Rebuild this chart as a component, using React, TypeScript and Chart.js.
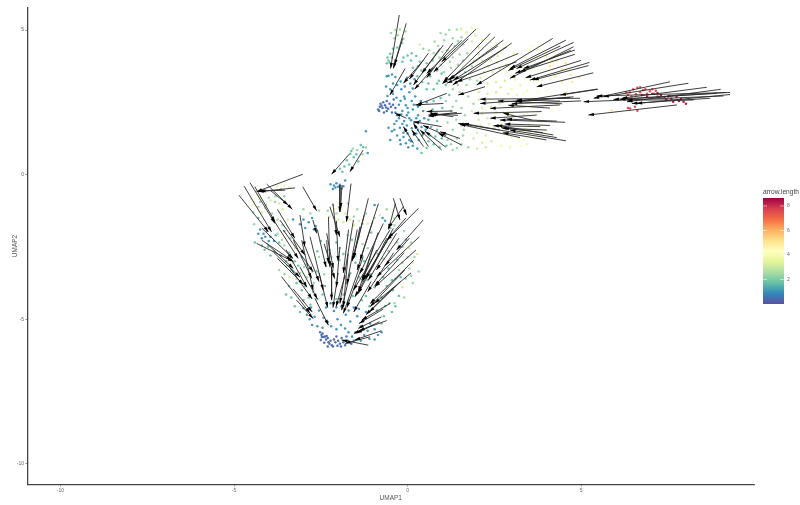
import React, { useEffect, useRef } from "react";
import { Chart, registerables } from "chart.js";

Chart.register(...registerables);

const xTicks = [-10, -5, 0, 5];
const yTicks = [-10, -5, 0, 5];
const legendTicks = [2, 4, 6, 8];
const legendMax = 8.65;
const spectral = ["#5e4fa2", "#3288bd", "#66c2a5", "#abdda4", "#e6f598", "#ffffbf", "#fee08b", "#fdae61", "#f46d43", "#d53e4f", "#9e0142"];

// cells grouped by arrow length: [UMAP1, UMAP2]
const cellsLen04 = [
  [-0.85,2.25],[-0.8,2.35],[-0.78,2.45],[-0.72,2.3],[-0.7,2.5],[-0.65,2.4],[-0.6,2.55],[-0.6,2.2],[-0.52,2.45],[-0.48,2.35],[-0.45,2.15],[-0.4,2.6],[-0.35,2.3],[-0.3,2.05],[-0.68,2.15],[-0.75,2.38],[-0.62,2.32],[-0.56,2.28],[-0.82,2.2],[-0.42,2.42],
  [-2.52,-5.45],[-2.48,-5.55],[-2.45,-5.5],[-2.42,-5.62],[-2.38,-5.6],[-2.35,-5.7],[-2.3,-5.65],[-2.28,-5.8],[-2.22,-5.75],[-2.18,-5.9],[-2.12,-5.7],[-2.08,-5.8],[-2.05,-5.6],[-2.0,-5.75],[-1.95,-5.85],[-1.9,-5.65],[-1.85,-5.8],[-1.8,-5.9],[-2.5,-5.72],[-2.4,-5.82],[-2.3,-5.95],[-1.72,-5.75],[-1.62,-5.85],[-2.47,-5.62],[-2.33,-5.58],[-2.25,-5.85],[-2.15,-5.95],[-2.02,-5.92],[-1.92,-5.95],[-1.76,-5.6],
];
const cellsLen10 = [
  [-0.55,3.42],[-0.45,3.46],[-0.35,3.38],[-0.62,3.05],[-0.5,2.95],[-0.42,2.8],[-0.3,3.1],[-0.18,2.95],[-0.1,2.7],[-0.2,2.55],[-0.05,2.4],[0.05,2.85],[0.12,2.55],[0.22,2.7],[0.3,2.35],[0.38,2.55],[-0.15,2.2],[0.02,2.15],[0.15,2.25],[0.3,2.05],[0.45,2.2],[-0.25,1.95],[-0.1,1.85],[0.05,1.95],[0.2,1.8],[0.35,1.85],[-0.38,1.75],[-0.22,1.62],[-0.05,1.55],[0.12,1.6],[0.3,1.55],[-0.45,1.5],[-0.3,1.35],[-0.12,1.3],[0.05,1.2],[0.18,1.38],[0.32,1.2],[-0.2,1.05],[0.02,0.95],[0.15,1.0],[0.28,0.9],[-0.5,1.2],[-1.2,1.5],[-1.15,0.75],[0.55,2.5],[0.6,1.9],[0.52,1.55],[0.08,3.15],[0.2,3.3],[-0.02,3.35],
  [-0.58,2.72],[-0.32,2.66],[-0.25,2.42],[-0.08,2.62],[0.0,2.3],[0.18,2.42],[-0.35,2.15],[-0.18,2.08],[-0.02,2.05],[0.1,1.88],[0.25,1.95],[-0.32,1.85],[-0.15,1.75],[-0.02,1.7],[0.22,1.68],[-0.55,1.62],[-0.38,1.55],[-0.12,1.45],[0.0,1.42],[0.25,1.42],[-0.22,1.2],[-0.05,1.08],[0.1,1.15],[0.42,1.35],[0.4,1.65],[0.48,1.95],[-0.6,3.4],[-0.42,3.15],[-0.2,3.22],[-0.08,3.05],[0.15,2.98],
  [-2.22,-0.33],[-2.12,-0.38],[-2.05,-0.3],[-2.0,-0.42],[-1.95,-0.35],[-2.15,-0.5],[-1.8,-0.2],[-2.08,-0.45],[-1.9,-0.48],[-1.85,-0.4],
  [-4.25,-1.9],[-4.15,-2.05],[-4.05,-1.95],[-4.2,-2.2],[-3.95,-2.15],[-3.3,-1.55],[-3.1,-1.72],[-2.95,-1.85],[-2.75,-1.5],[-2.65,-1.78],[-0.95,-1.05],[-0.72,-1.5],[-0.65,-1.6],[-4.3,-2.05],[-4.1,-2.15],[-4.0,-2.3],[-3.85,-2.3],[-3.0,-1.55],[-2.85,-1.65],[-2.7,-1.9],
  [-2.55,-4.7],[-2.42,-4.95],[-2.3,-5.1],[-2.22,-4.45],[-2.12,-4.72],[-2.02,-5.0],[-1.92,-5.2],[-1.9,-4.55],[-1.78,-4.85],[-1.65,-5.08],[-1.55,-4.6],[-1.45,-4.9],[-1.35,-5.25],[-1.2,-4.75],[-1.08,-5.15],[-0.95,-5.35],[-1.5,-5.45],[-1.25,-5.55],[-1.1,-5.68],[-1.35,-5.75],[-2.75,-5.2],[-2.9,-4.85],[-3.0,-4.62],[-2.6,-5.25],[-1.6,-5.6],
  [-2.45,-5.3],[-2.2,-5.25],[-2.05,-5.35],[-1.8,-5.32],[-1.7,-5.45],[-2.35,-4.6],[-2.05,-4.6],[-1.7,-4.7],[-1.4,-4.65],[-1.25,-5.0],[-1.15,-5.4],[-0.85,-5.55],[-0.95,-5.7],[-0.75,-5.45],[-1.55,-5.75],[-2.82,-5.0],[-2.68,-4.92],[-2.78,-4.6],
];
const cellsLen17 = [
  [-0.58,4.05],[-0.5,4.18],[-0.42,4.35],[-0.3,4.4],[-0.6,3.85],[-0.52,3.88],[-0.12,4.05],[0.0,4.12],[0.12,4.2],[0.25,4.1],[0.35,3.9],[0.55,3.85],[0.72,3.95],[0.85,3.6],[0.65,3.4],[0.4,3.6],[0.28,3.4],[0.9,3.25],[1.1,3.1],[0.75,2.95],[0.55,2.95],[0.65,1.35],[0.85,1.55],[0.98,1.25],[1.12,1.0],[0.75,1.05],[0.55,0.92],[0.4,0.75],[1.0,2.3],[1.2,2.75],[0.95,2.65],
  [0.15,3.7],[0.3,3.75],[0.5,3.65],[0.7,3.65],[0.98,3.5],[0.85,3.15],[0.6,3.15],[0.42,3.2],[0.75,2.55],[0.72,2.25],[0.85,1.85],[0.68,1.65],[0.8,1.32],[0.92,0.95],[0.6,1.15],[1.1,1.4],[-0.55,3.95],[-0.45,4.05],[-0.15,3.9],[0.1,3.95],
  [-1.35,1.02],[-1.28,0.95],[-1.65,0.72],[-1.55,0.6],[-1.75,0.5],[-1.42,0.45],[-1.82,0.28],[-1.95,0.2],[-1.62,0.82],[-1.48,0.7],[-1.68,0.35],[-1.88,0.1],
  [-4.3,-1.5],[-4.4,-2.35],[-4.2,-2.45],[-4.02,-2.5],[-3.85,-2.65],[-3.7,-2.35],[-3.55,-1.95],[-3.42,-2.7],[-3.25,-3.0],[-3.05,-2.85],[-2.9,-3.1],[-2.62,-3.35],[-3.2,-3.75],[-3.05,-4.0],[-2.85,-4.25],[-3.35,-4.25],[-3.25,-4.55],[-3.1,-4.75],[-2.72,-4.05],[-2.38,-3.85],[-2.18,-4.1],[-1.85,-4.15],[-1.58,-4.2],[-1.32,-4.35],[-1.1,-4.55],[-0.88,-4.7],[-0.68,-4.9],[-0.75,-5.15],[-0.52,-4.45],[-0.6,-3.85],[-0.42,-4.0],[-0.25,-4.2],[-0.95,-3.9],[-1.15,-3.65],[-1.4,-3.55],[-1.65,-3.4],[-1.25,-3.0],[-0.85,-3.2],[-0.55,-3.25],[-0.3,-2.95],[-0.15,-2.5],[-0.05,-2.25],[-2.25,-2.6],[-2.5,-2.3],[-1.6,-2.25],[-1.05,-2.0],[-0.5,-1.85],[-0.85,-2.75],
  [-4.12,-2.6],[-3.95,-2.8],[-3.8,-2.1],[-3.65,-2.8],[-3.5,-3.0],[-3.35,-3.3],[-3.15,-3.15],[-3.42,-3.85],[-3.5,-4.15],[-3.0,-4.35],[-2.95,-3.85],[-2.8,-4.5],[-2.6,-4.3],[-2.45,-4.15],[-2.05,-4.3],[-1.7,-4.35],[-1.45,-4.1],[-1.2,-4.2],[-0.95,-4.4],[-0.75,-4.25],[-0.65,-4.55],[-0.45,-4.75],[-0.35,-4.55],[-1.05,-3.45],[-0.7,-3.55],[-0.45,-3.65],[-0.2,-3.55],[-1.5,-3.05],[-1.85,-2.75],[-2.05,-2.35],[-2.35,-3.15],[-2.6,-2.65],
];
const cellsLen24 = [
  [-0.48,4.9],[-0.35,5.0],[-0.22,5.02],[-0.06,4.95],[-0.15,4.55],[0.95,4.9],[1.2,5.0],[1.42,5.02],[1.05,4.65],[1.3,4.72],[1.55,4.75],[0.88,4.45],[0.62,4.3],[0.45,4.35],[1.15,4.3],[1.35,4.45],[1.6,4.5],[0.92,4.05],[1.1,4.05],[1.3,4.05],[1.5,4.15],[1.72,4.2],[1.45,3.8],[1.25,3.7],[1.05,3.55],[1.65,3.55],[1.85,3.75],[1.55,3.35],[1.35,3.4],[1.8,3.3],[2.0,3.25],[1.25,2.2],[1.4,2.55],[1.55,2.3],[1.75,2.7],[1.9,2.45],[1.55,1.05],[1.3,0.85],[1.6,1.35],[1.75,0.95],[1.3,1.55],[1.55,1.7],
  [-0.38,4.72],[-0.28,4.82],[-0.12,4.7],[0.78,4.6],[1.1,4.85],[1.45,4.62],[0.75,4.2],[1.0,4.25],[1.22,3.9],[1.6,3.95],[0.95,3.8],[1.2,3.3],[1.45,3.1],[1.7,3.1],[1.5,2.85],[1.3,2.95],[1.1,2.55],[1.3,2.35],[1.15,1.8],[1.4,1.9],[1.65,2.05],[1.15,1.2],[1.42,1.25],[1.62,1.55],[1.25,1.05],[1.42,0.92],
  [-1.2,0.95],[-1.45,0.85],[-1.58,0.9],[-1.3,0.7],
  [-4.25,-0.95],[-4.0,-0.8],[-3.8,-0.75],[-3.65,-0.5],[-3.55,-0.75],[-4.45,-1.3],[-4.42,-1.72],[-3.9,-1.35],[-3.75,-2.05],[-3.55,-2.45],[-3.48,-3.15],[-3.55,-3.45],[-3.3,-3.35],[-3.1,-3.4],[-2.9,-3.55],[-2.7,-3.75],[-2.55,-2.85],[-2.15,-3.3],[-1.95,-2.95],[-1.8,-3.55],[-1.5,-2.8],[-1.3,-2.4],[-1.95,-1.2],[-2.15,-1.05],[-1.72,-1.0],[-1.45,-1.2],[-1.2,-1.35],[-0.95,-1.5],[-0.6,-1.2],[-0.38,-1.75],[-0.1,-1.95],[0.1,-2.35],[0.2,-2.85],[0.32,-3.35],[0.15,-3.75],[0.05,-3.25],[-0.05,-3.6],[-0.15,-3.05],[-2.55,-1.25],[-2.8,-1.35],[-3.0,-1.2],[-0.38,-4.45],[-0.1,-4.25],[-0.35,-3.6],[-0.62,-2.35],
  [-4.3,-1.12],[-4.08,-1.05],[-3.82,-0.95],[-3.75,-1.55],[-3.6,-1.75],[-3.62,-2.25],[-3.38,-2.2],[-3.35,-2.85],[-3.7,-3.3],[-3.2,-3.6],[-2.98,-3.2],[-2.75,-3.35],[-2.4,-3.45],[-2.2,-2.85],[-1.95,-2.55],[-1.72,-2.1],[-1.4,-2.15],[-1.15,-2.55],[-1.05,-2.95],[-0.72,-2.9],[-0.55,-2.65],[-0.3,-2.35],[0.0,-2.85],[0.1,-3.5],[-0.25,-3.3],[-1.55,-1.45],[-1.3,-1.7],[-2.05,-1.35],[-2.3,-1.25],
];
const cellsLen32 = [
  [0.35,4.5],[1.55,5.05],[1.7,4.92],[1.85,4.6],[2.05,4.4],[2.3,4.25],[1.9,3.95],[2.15,3.95],[2.4,3.95],[2.6,4.1],[2.2,3.55],[2.45,3.55],[2.65,3.65],[2.85,3.8],[2.3,3.15],[2.55,3.2],[2.8,3.25],[3.0,3.4],[2.05,2.85],[2.3,2.8],[2.55,2.85],[2.15,2.3],[2.4,2.35],[2.65,2.45],[2.9,2.8],[2.05,1.9],[2.3,1.95],[2.0,1.45],[2.25,1.35],[2.5,1.6],[2.0,0.9],[2.25,0.95],
  [1.95,4.8],[2.15,4.65],[2.05,4.15],[2.32,3.75],[2.58,3.88],[2.1,3.35],[2.68,3.02],[2.05,2.6],[2.25,2.55],[1.85,2.2],[2.15,2.1],[2.55,2.15],[1.85,1.65],[2.1,1.7],[2.35,1.75],[1.9,1.25],[2.15,1.1],[2.42,1.15],
  [-4.1,-1.15],[-3.95,-0.9],[-3.7,-1.0],[-3.4,-0.45],[-3.25,-2.55],[-3.3,-3.05],[-1.95,-0.85],[-1.8,-1.35],[-2.0,-1.55],[-1.65,-1.55],[-1.4,-1.6],[-1.15,-1.7],[-0.8,-1.4],[0.05,-2.55],[0.28,-2.75],[-0.15,-3.9],
  [-4.2,-1.3],[-3.6,-1.2],[-3.45,-1.55],[-2.25,-1.45],[-1.85,-1.65],[-1.55,-1.75],[-0.4,-1.5],[0.15,-3.05],[-3.4,-3.55],
];
const cellsLen38 = [
  [1.55,5.0],[1.85,5.08],[2.0,5.05],[2.3,4.7],[2.55,4.55],[2.75,4.4],[3.05,4.2],[2.95,3.7],[3.2,3.55],[3.0,2.95],[3.25,3.1],[3.45,2.9],[3.0,2.35],[3.25,2.45],[3.5,2.55],[2.85,1.95],[3.1,1.9],[3.35,2.05],[2.75,1.45],[3.0,1.3],[3.25,1.5],[3.5,1.7],[2.7,1.0],[2.95,0.95],
  [2.42,4.4],[2.7,4.2],[2.85,3.55],[3.1,3.3],[3.15,2.75],[2.9,2.55],[2.75,2.15],[3.0,2.1],[2.7,1.75],[2.95,1.6],[3.2,1.25],[3.45,1.05],
  [-4.5,-0.85],[-4.42,-0.95],[-4.3,-0.72],[-4.35,-0.55],[-3.75,-0.42],[-3.55,-0.35],[-1.98,-1.0],[-1.9,-1.2],[-4.48,-1.05],[-4.25,-0.82],[-2.08,-1.18],
];
const cellsLen44 = [
  [3.6,4.45],[3.85,4.5],[4.0,4.25],[4.25,4.15],[3.4,4.05],[3.7,4.05],[3.95,3.9],[4.2,3.8],[3.3,3.75],[3.55,3.6],[3.8,3.6],[4.35,3.55],[4.55,3.65],[3.6,3.2],[3.85,3.25],[4.1,3.3],[3.75,2.85],[4.0,2.9],[4.25,2.75],[3.65,2.3],[3.9,2.35],[4.15,2.2],[3.6,1.85],[3.85,1.75],[3.5,1.35],[3.75,1.25],[3.25,1.0],
  [3.5,4.3],[3.75,4.3],[3.55,3.9],[3.75,3.85],[4.05,3.6],[3.45,3.35],[3.35,2.8],[3.6,2.65],[3.85,2.6],[3.45,2.1],[3.75,2.05],[3.4,1.6],[3.65,1.55],[3.95,1.5],[3.35,1.2],
];
const cellsLen50 = [
  [4.0,4.1],[4.3,3.95],[4.55,3.85],[4.7,3.45],[4.95,3.35],[4.45,3.2],[4.55,2.85],[5.88,2.23],[4.3,2.4],[4.15,3.95],[4.45,3.65],[4.25,3.4],[4.75,3.2],[4.1,3.75],
];
const cellsLen76 = [
  [6.41,2.29],[6.35,2.3],[6.62,2.21],[6.55,2.35],[6.62,3.0],[6.7,3.02],[6.85,2.95],[6.4,2.85],[6.5,2.95],[6.7,2.85],[6.9,2.8],[6.35,2.75],[6.25,2.65],[6.45,2.7],[7.05,2.95],[7.15,2.9],[7.2,2.7],[6.58,2.78],[6.78,2.92],[6.98,2.88],[6.3,2.85],[7.1,2.8],
];
const cellsLen84 = [
  [7.5,2.7],[7.6,2.62],[7.75,2.68],[7.82,2.55],[7.95,2.52],[8.02,2.45],[7.3,2.75],[7.4,2.68],[7.05,2.8],[6.9,2.7],[7.65,2.52],[6.75,2.75],[7.45,2.6],[7.55,2.72],[7.88,2.62],[7.2,2.82],
];
const cellGroups: [number, number[][]][] = [
  [0.4, cellsLen04], [1.0, cellsLen10], [1.7, cellsLen17], [2.4, cellsLen24], [3.2, cellsLen32],
  [3.8, cellsLen38], [4.4, cellsLen44], [5.0, cellsLen50], [7.6, cellsLen76], [8.4, cellsLen84],
];

// velocity arrows: [tail UMAP1, tail UMAP2, head UMAP1, head UMAP2]
const arrowsUpper = [
  [-0.24,5.52,-0.49,3.67],[-0.04,5.23,-0.41,3.67],[-0.14,4.71,-0.38,3.79],[1.97,5.03,0.98,3.9],[1.56,4.65,0.55,3.5],[1.03,4.48,0.41,3.5],[0.94,4.37,0.17,3.1],[0.46,3.96,-0.12,3.16],[-0.07,3.67,-0.51,2.75],
  [2.38,4.88,1.03,3.21],[2.52,4.77,1.22,3.27],[2.76,4.65,1.18,3.27],[2.86,4.42,1.32,3.27],[3.19,4.19,1.13,3.16],[3.14,3.9,1.42,3.21],[4.18,4.71,1.99,3.1],[4.56,4.65,2.95,3.67],[4.78,4.57,3.14,3.67],[4.78,4.42,2.95,3.33],[4.82,4.31,3.34,3.67],[4.82,4.16,3.24,3.56],[5.24,3.88,3.53,3.27],[5.21,3.77,3.62,3.27],[5.35,3.52,3.72,3.04],
  [2.23,3.04,1.46,2.75],[1.13,2.81,0.26,2.41],[1.03,2.46,0.22,2.41],[5.47,2.96,3.1,2.52],[4.97,2.64,2.09,2.61],[4.78,2.69,2.09,2.46],[4.39,2.41,2.38,2.29],[3.86,2.18,1.9,2.12],[3.72,2.06,2.38,1.95],[4.54,1.81,2.66,1.89],[3.82,1.66,2.47,1.69],[4.2,1.37,2.57,1.71],[4.56,1.17,1.46,1.77],[3.24,1.28,1.51,1.74],[2.66,1.54,1.61,1.77],
  [1.56,2.12,0.6,2.06],[1.32,2.0,0.65,2.12],[0.98,1.66,0.17,1.83],[1.56,1.02,0.89,1.43],[1.51,1.25,0.94,1.48],[0.98,0.85,0.36,1.54],[0.6,0.97,0.17,1.77],[0.17,1.08,-0.12,1.66],[0.46,0.97,0.12,1.54],[-0.03,1.95,-0.36,2.12],[1.42,2.15,0.65,2.04],
  [4.68,2.67,3.14,2.52],[4.39,2.54,3.14,2.58],[3.58,1.89,2.76,2.12],[4.01,1.54,2.76,1.6],[4.3,1.28,2.95,1.54],
  [4.4,4.45,2.9,3.6],[4.7,4.3,3.1,3.5],[5.0,3.95,3.4,3.35],[3.0,4.55,1.3,3.1],[2.6,4.45,1.0,3.15],[1.75,4.7,0.75,3.55],[1.3,4.55,0.55,3.35],[0.6,4.2,0.05,3.3],[0.75,3.7,0.2,2.95],[5.0,2.55,3.0,2.45],[4.45,2.45,2.6,2.55],[4.1,2.3,2.9,2.4],[4.3,1.85,2.85,1.92],[4.1,1.7,2.8,1.75],[3.9,1.45,2.7,1.62],[4.0,1.2,2.75,1.45],[1.3,2.2,0.55,2.18],[1.45,2.05,0.7,2.1],[1.2,2.1,0.6,2.02],[1.1,1.35,0.45,1.7],[1.1,0.95,0.5,1.5],
];
const arrowsRight = [
  [7.56,3.21,5.36,2.64],[8.09,3.16,5.64,2.69],[8.62,3.02,6.17,2.64],[9.02,2.95,6.32,2.52],[9.17,2.84,6.12,2.6],[9.29,2.77,6.6,2.46],[9.1,2.72,5.07,2.52],[7.76,2.41,5.21,2.06],[8.72,2.64,6.46,2.46],[5.48,2.95,4.4,2.75],[9.29,2.84,5.45,2.72],[8.91,2.81,5.93,2.6],[8.24,2.58,6.32,2.58],
];
const arrowsLower = [
  [-1.28,0.85,-1.66,0.1],[-1.68,0.71,-2.19,0.01],[-1.95,-0.36,-1.95,-1.29],[-1.89,-0.36,-1.93,-1.17],[-1.63,-0.31,-1.76,-1.63],[-3.02,-0.42,-2.62,-1.25],[-3.02,0.01,-4.35,-0.59],[-3.24,-0.46,-4.3,-0.59],[-3.53,-0.54,-4.25,-0.57],[-4.06,-0.33,-3.32,-1.2],[-3.96,-0.54,-3.44,-1.05],
  [-4.71,-0.4,-3.92,-1.98],[-4.54,-0.28,-3.82,-1.69],[-4.4,-0.42,-3.82,-1.63],[-4.86,-0.71,-4.01,-1.98],[-4.35,-2.38,-3.29,-3.01],[-4.2,-2.27,-3.34,-2.96],[-4.06,-2.38,-3.29,-3.25],[-3.63,-3.53,-2.81,-4.8],[-3.2,-4.34,-2.72,-4.98],[-3.68,-1.57,-2.96,-2.78],[-3.58,-1.92,-2.72,-3.36],[-3.1,-1.4,-2.96,-2.5],[-3.05,-2.27,-2.72,-4.0],[-2.81,-2.15,-2.43,-4.0],[-2.73,-1.57,-2.62,-2.03],[-2.33,-2.03,-2.14,-3.25],[-2.24,-1.11,-1.95,-2.15],[-2.28,-1.46,-2.24,-3.19],[-2.33,-2.27,-2.28,-3.07],[-2.67,-4.28,-2.28,-5.21],[-2.19,-3.19,-2.19,-4.34],[-1.8,-3.48,-2.06,-4.57],[-1.56,-1.57,-1.95,-4.46],
  [-1.13,-0.82,-1.56,-2.9],[-0.84,-1.0,-1.37,-2.96],[-0.7,-1.69,-1.37,-3.42],[-0.41,-0.82,-0.22,-1.57],[-0.22,-0.82,-0.03,-1.4],[0.31,-1.17,-0.6,-2.27],[0.45,-1.57,-0.32,-2.61],[0.34,-2.15,-0.89,-3.53],[0.24,-2.61,-0.94,-3.88],[0.18,-2.96,-1.08,-4.46],[-0.08,-3.3,-1.08,-4.57],[-0.51,-2.15,-1.28,-3.65],[-0.41,-1.86,-1.42,-4.11],[-0.7,-2.5,-1.52,-4.23],[-0.99,-2.5,-1.42,-4.05],[-1.28,-2.84,-1.85,-4.8],[-1.66,-3.42,-1.9,-4.69],[-0.51,-4.46,-1.32,-5.03],[-0.75,-4.92,-1.42,-5.32],[-0.81,-5.09,-1.47,-5.49],[-0.75,-5.4,-1.52,-5.72],[-1.13,-5.9,-1.9,-5.72],[-1.08,-5.61,-1.8,-5.84],[-1.71,-2.73,-1.85,-4.57],[-0.51,-1.92,-1.56,-4.0],[-0.89,-2.61,-1.32,-3.65],[-0.12,-1.11,-0.56,-1.86],[-0.32,-2.03,-1.13,-3.65],[-1.37,-1.8,-1.56,-2.9],[-3.29,-2.27,-2.76,-3.59],
  [-4.2,-1.85,-3.3,-2.9],[-3.9,-1.5,-3.15,-2.9],[-3.75,-1.2,-3.25,-2.2],[-3.5,-2.6,-2.9,-3.9],[-3.4,-3.2,-2.75,-4.3],[-3.85,-2.7,-3.1,-3.55],[-3.3,-3.95,-2.75,-4.75],[-2.95,-2.5,-2.55,-3.7],[-2.6,-1.9,-2.35,-3.2],[-2.4,-2.4,-2.1,-3.6],[-2.15,-1.0,-2.05,-2.1],[-2.05,-1.6,-2.0,-3.0],[-1.95,-2.5,-2.05,-3.9],[-1.7,-1.9,-1.85,-3.4],[-1.45,-1.9,-1.75,-3.8],[-1.25,-1.4,-1.6,-3.0],[-1.0,-1.6,-1.45,-3.3],[-0.85,-2.0,-1.3,-3.7],[-0.6,-2.2,-1.2,-3.6],[-0.4,-2.7,-1.15,-4.05],[-0.25,-2.2,-0.9,-3.3],[-0.1,-2.7,-0.95,-3.85],[0.05,-2.2,-0.65,-3.15],[0.1,-3.4,-0.95,-4.45],[-0.2,-3.7,-1.1,-4.75],[-0.4,-3.9,-1.2,-4.85],[-1.05,-3.7,-1.55,-4.75],[-1.35,-3.3,-1.75,-4.6],[-2.0,-3.4,-2.15,-4.6],[-0.35,-1.0,-0.55,-1.9],[-0.05,-1.5,-0.55,-2.2],[-0.6,-5.05,-1.4,-5.4],[-0.7,-4.65,-1.4,-5.15],[-1.0,-5.2,-1.55,-5.5],[-2.55,-3.4,-2.3,-4.6],[-3.1,-3.2,-2.6,-4.3],[-3.75,-2.9,-3.0,-3.8],
];
const allArrows = [...arrowsUpper, ...arrowsRight, ...arrowsLower];

function hexToRgb(h: string) {
  return [parseInt(h.slice(1, 3), 16), parseInt(h.slice(3, 5), 16), parseInt(h.slice(5, 7), 16)];
}
function colorFor(v: number, alpha: number) {
  const t = Math.min(0.9999, Math.max(0, v / legendMax)) * (spectral.length - 1);
  const i = Math.floor(t);
  const f = t - i;
  const a = hexToRgb(spectral[i]);
  const b = hexToRgb(spectral[i + 1]);
  const c = a.map((p, k) => Math.round(p + (b[k] - p) * f));
  return `rgba(${c[0]},${c[1]},${c[2]},${alpha})`;
}

const arrowHeads = {
  id: "arrowHeads",
  afterDatasetsDraw(chart: any) {
    const { ctx, scales } = chart;
    ctx.save();
    ctx.fillStyle = "#000";
    for (const [tx, ty, hx, hy] of allArrows) {
      const x0 = scales.x.getPixelForValue(tx);
      const y0 = scales.y.getPixelForValue(ty);
      const x1 = scales.x.getPixelForValue(hx);
      const y1 = scales.y.getPixelForValue(hy);
      const ang = Math.atan2(y1 - y0, x1 - x0);
      const len = 5.5;
      const half = 1.6;
      ctx.beginPath();
      ctx.moveTo(x1, y1);
      ctx.lineTo(x1 - len * Math.cos(ang) - half * Math.sin(ang), y1 - len * Math.sin(ang) + half * Math.cos(ang));
      ctx.lineTo(x1 - len * Math.cos(ang) + half * Math.sin(ang), y1 - len * Math.sin(ang) - half * Math.cos(ang));
      ctx.closePath();
      ctx.fill();
    }
    ctx.restore();
  },
};

const colorBar = {
  id: "colorBar",
  afterDraw(chart: any) {
    const { ctx } = chart;
    const left = 763, right = 784, top = 198, bottom = 304;
    const yFor = (v: number) => bottom - (v / legendMax) * (bottom - top);
    const g = ctx.createLinearGradient(0, bottom, 0, top);
    spectral.forEach((c, i) => g.addColorStop(i / (spectral.length - 1), c));
    ctx.save();
    ctx.fillStyle = g;
    ctx.fillRect(left, top, right - left, bottom - top);
    ctx.strokeStyle = "rgba(255,255,255,0.75)";
    ctx.lineWidth = 0.7;
    ctx.textAlign = "left";
    ctx.textBaseline = "middle";
    ctx.font = '5px "Liberation Sans"';
    for (const v of legendTicks) {
      const y = yFor(v);
      ctx.beginPath();
      ctx.moveTo(left, y); ctx.lineTo(left + 4, y);
      ctx.moveTo(right - 4, y); ctx.lineTo(right, y);
      ctx.stroke();
      ctx.fillStyle = "#666";
      ctx.fillText(String(v), 787, y);
    }
    ctx.fillStyle = "#444";
    ctx.font = '6.6px "Liberation Sans"';
    ctx.textBaseline = "alphabetic";
    ctx.fillText("arrow.length", 763, 193.5);
    ctx.restore();
  },
};

export default function App() {
  const ref = useRef<HTMLCanvasElement>(null);
  useEffect(() => {
    const cellData: { x: number; y: number }[] = [];
    const cellColors: string[] = [];
    for (const [len, pts] of cellGroups) {
      for (const [x, y] of pts) {
        cellData.push({ x, y });
        cellColors.push(colorFor(len, 0.95));
      }
    }
    const shaftData: { x: number; y: number }[] = [];
    for (const [tx, ty, hx, hy] of allArrows) {
      shaftData.push({ x: tx, y: ty }, { x: hx, y: hy }, { x: NaN, y: NaN });
    }
    const tickFont = { family: '"Liberation Sans"', size: 5 };
    const titleFont = { family: '"Liberation Sans"', size: 6.5 };
    const chart = new Chart(ref.current!, {
      type: "scatter",
      data: {
        datasets: [
          { label: "cells", data: cellData, order: 2, pointRadius: 1.25, pointBorderWidth: 0, pointBackgroundColor: cellColors, showLine: false },
          { label: "arrows", data: shaftData, order: 1, showLine: true, spanGaps: false, pointRadius: 0, borderColor: "#2a2a2a", borderWidth: 0.9 },
        ],
      } as any,
      options: {
        animation: false,
        responsive: false,
        devicePixelRatio: 1,
        layout: { padding: { top: 7.5, right: 46, left: 0, bottom: 0 } },
        plugins: { legend: { display: false }, tooltip: { enabled: false } },
        scales: {
          x: {
            type: "linear",
            min: -10.95,
            max: 9.98,
            afterBuildTicks: (s: any) => { s.ticks = xTicks.map((value) => ({ value })); },
            afterFit: (s: any) => { s.height = 20.5; },
            grid: { display: true, drawOnChartArea: false, drawTicks: true, tickLength: 2, color: "#444", lineWidth: 0.6 },
            border: { display: true, color: "#444", width: 1.3 },
            ticks: { font: tickFont, color: "#666", padding: 1.5, maxRotation: 0, autoSkip: false },
            title: { display: true, text: "UMAP1", font: titleFont, color: "#555", padding: { top: 0, bottom: 3 } },
          },
          y: {
            type: "linear",
            min: -10.72,
            max: 5.78,
            afterBuildTicks: (s: any) => { s.ticks = yTicks.map((value) => ({ value })); },
            afterFit: (s: any) => { s.width = 27.5; },
            grid: { display: true, drawOnChartArea: false, drawTicks: true, tickLength: 2, color: "#444", lineWidth: 0.6 },
            border: { display: true, color: "#444", width: 1.3 },
            ticks: { font: tickFont, color: "#666", padding: 1.5, autoSkip: false },
            title: { display: true, text: "UMAP2", font: titleFont, color: "#555", padding: { top: 11, bottom: 0 } },
          },
        },
      },
      plugins: [arrowHeads, colorBar],
    } as any);
    return () => chart.destroy();
  }, []);
  return (
    <div style={{ position: "absolute", left: 0, top: 0, width: 800, height: 505, background: "#fff" }}>
      <canvas ref={ref} width={800} height={505} style={{ display: "block" }} />
    </div>
  );
}
